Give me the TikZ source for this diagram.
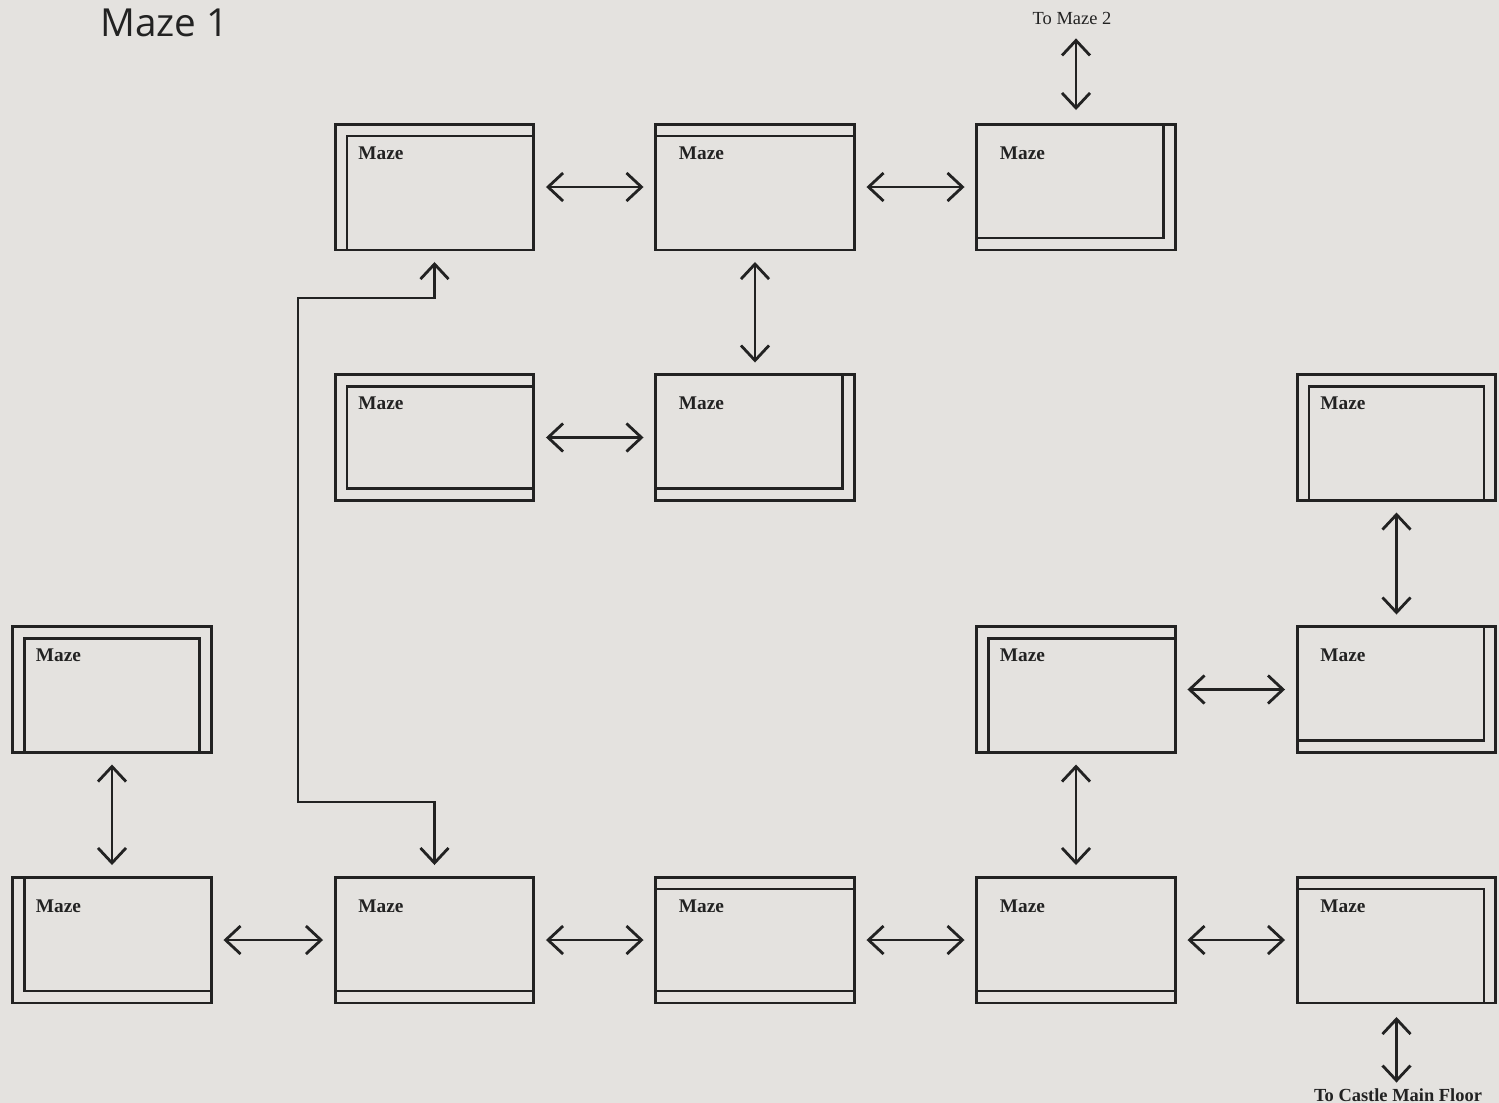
\documentclass[tikz,border=0pt]{standalone}
\usepackage{fontspec}
\setmainfont{Liberation Serif}
\newfontfamily\titlefont{Open Sans}
\usetikzlibrary{arrows.meta}

\definecolor{paper}{HTML}{E4E2DF}
\definecolor{ink}{HTML}{222222}

\def\wi{0.24cm}

\begin{document}
\begin{tikzpicture}[
  x=0.02cm, y=-0.02cm,
  room/.style     = {draw=ink, line width=1.7pt, minimum width=3.98cm,
                     minimum height=2.52cm, inner sep=0pt, outer sep=0pt},
  wall/.style     = {draw=ink, line width=1.6pt},
  roomname/.style = {anchor=base west, inner sep=0pt, text=ink,
                     font=\bfseries\fontsize{11}{12}\selectfont},
  link/.style     = {{Straight Barb[length=0.3cm,width=0.56cm]}-{Straight Barb[length=0.3cm,width=0.56cm]},
                     draw=ink, line width=1.6pt, shorten <=0.24cm, shorten >=0.24cm},
]

% ── Page ───────────────────────────────────────────────────────────────────
\path[use as bounding box, fill=paper] (0,0) rectangle (1499,1103);

\node[anchor=base west, inner sep=0pt, text=ink,
      font=\titlefont\fontsize{22}{26}\selectfont] (title) at (100,36) {Maze 1};

% ── Rooms ──────────────────────────────────────────────────────────────────
\node[room] (m12) at (434.5,187)   {};
\node[room] (m13) at (755,187)     {};
\node[room] (m14) at (1076,187)    {};
\node[room] (m22) at (434.5,437.5) {};
\node[room] (m23) at (755,437.5)   {};
\node[room] (m25) at (1396.5,437.5){};
\node[room] (m31) at (112,689.5)   {};
\node[room] (m34) at (1076,689.5)  {};
\node[room] (m35) at (1396.5,689.5){};
\node[room] (m41) at (112,940)     {};
\node[room] (m42) at (434.5,940)   {};
\node[room] (m43) at (755,940)     {};
\node[room] (m44) at (1076,940)    {};
\node[room] (m45) at (1396.5,940)  {};

\foreach \rm in {m12,m13,m14,m22,m23,m25,m31,m34,m35,m41,m42,m43,m44,m45} {
  \node[roomname] (\rm-name) at ([shift={(0.46cm,-0.70cm)}]\rm.north west) {Maze};
}

% ── Inner walls ────────────────────────────────────────────────────────────
% top + left
\draw[wall] ([xshift=\wi]m12.south west) |- ([yshift=-\wi]m12.north east);
\draw[wall] ([xshift=\wi]m34.south west) |- ([yshift=-\wi]m34.north east);
% top
\draw[wall] ([yshift=-\wi]m13.north west) -- ([yshift=-\wi]m13.north east);
% right + bottom
\draw[wall] ([xshift=-\wi]m14.north east) |- ([yshift=\wi]m14.south west);
\draw[wall] ([xshift=-\wi]m23.north east) |- ([yshift=\wi]m23.south west);
\draw[wall] ([xshift=-\wi]m35.north east) |- ([yshift=\wi]m35.south west);
% left + top + bottom
\draw[wall] ([yshift=-\wi]m22.north east) -- ([shift={(\wi,-\wi)}]m22.north west)
  -- ([shift={(\wi,\wi)}]m22.south west) -- ([yshift=\wi]m22.south east);
% left + top + right
\draw[wall] ([xshift=\wi]m25.south west) -- ([shift={(\wi,-\wi)}]m25.north west)
  -- ([shift={(-\wi,-\wi)}]m25.north east) -- ([xshift=-\wi]m25.south east);
\draw[wall] ([xshift=\wi]m31.south west) -- ([shift={(\wi,-\wi)}]m31.north west)
  -- ([shift={(-\wi,-\wi)}]m31.north east) -- ([xshift=-\wi]m31.south east);
% left + bottom
\draw[wall] ([xshift=\wi]m41.north west) |- ([yshift=\wi]m41.south east);
% bottom
\draw[wall] ([yshift=\wi]m42.south west) -- ([yshift=\wi]m42.south east);
\draw[wall] ([yshift=\wi]m44.south west) -- ([yshift=\wi]m44.south east);
% top + bottom
\draw[wall] ([yshift=-\wi]m43.north west) -- ([yshift=-\wi]m43.north east);
\draw[wall] ([yshift=\wi]m43.south west) -- ([yshift=\wi]m43.south east);
% top + right
\draw[wall] ([yshift=-\wi]m45.north west) -| ([xshift=-\wi]m45.south east);

% ── Exits ──────────────────────────────────────────────────────────────────
\node[anchor=base, text=ink, font=\fontsize{10.5}{12}\selectfont] (tomaze) at (1072,24) {To Maze 2};
\node[anchor=base, inner sep=2pt, text=ink, font=\bfseries\fontsize{10.5}{12}\selectfont]
  (tocastle) at (1398,1101) {To Castle Main Floor};

% ── Passages ───────────────────────────────────────────────────────────────
\draw[link] (m12) -- (m13);
\draw[link] (m13) -- (m14);
\draw[link] (m13) -- (m23);
\draw[link] (m22) -- (m23);
\draw[link] (m25) -- (m35);
\draw[link] (m34) -- (m35);
\draw[link] (m31) -- (m41);
\draw[link] (m34) -- (m44);
\draw[link] (m41) -- (m42);
\draw[link] (m42) -- (m43);
\draw[link] (m43) -- (m44);
\draw[link] (m44) -- (m45);

% long way round from the bottom row back up
\coordinate (bendlow)  at (298,802);
\coordinate (bendhigh) at (298,298);
\draw[link] (m42.north) |- (bendlow) -- (bendhigh) -| (m12.south);

\draw[link, shorten <=0.16cm, shorten >=0.28cm] (tomaze.south -| m14.north) -- (m14.north);
\draw[link, shorten <=0.28cm, shorten >=1pt] (m45.south) -- (tocastle.north -| m45.south);

\end{tikzpicture}
\end{document}
